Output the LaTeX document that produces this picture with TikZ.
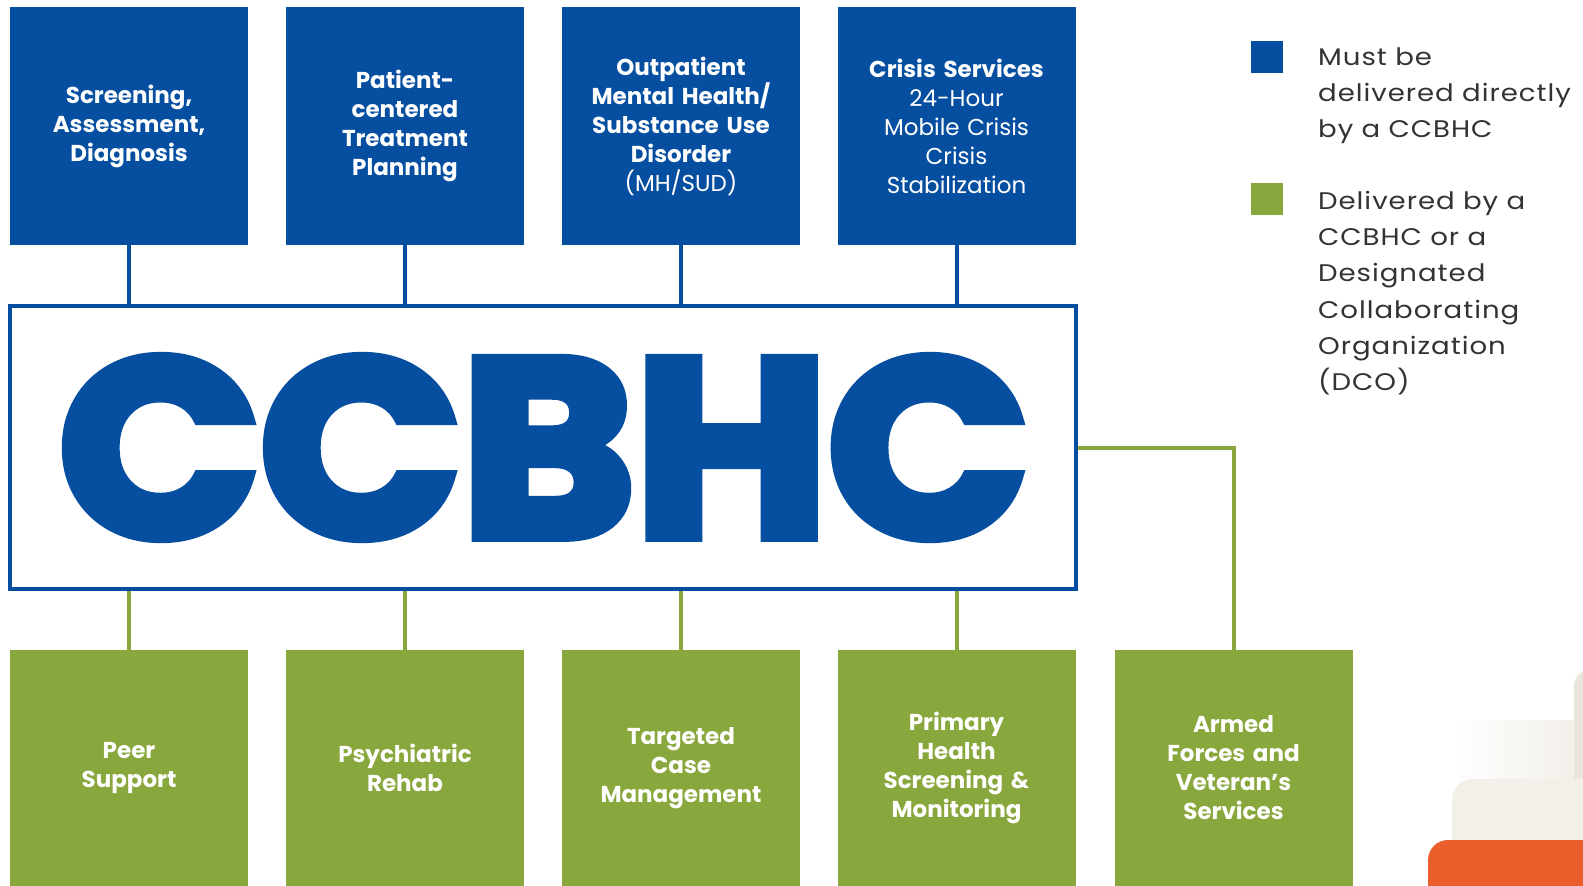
\documentclass[tikz,border=0pt]{standalone}
\usepackage{fontspec}
\usepackage{graphicx}
\setmainfont{Poppins}
\newfontfamily\bigfont{Poppins}[UprightFont=* Bold, FakeBold=4.5]
\newfontfamily\legfont{Poppins}[FakeStretch=1.15, LetterSpace=4]
\definecolor{ccblue}{HTML}{064FA0}
\definecolor{ccgreen}{HTML}{88A73C}
\definecolor{legtext}{HTML}{333333}
\definecolor{beige}{HTML}{F3F0EA}
\definecolor{beigedark}{HTML}{EAE5DC}
\definecolor{ccorange}{HTML}{E95E2B}
\begin{document}
\begin{tikzpicture}[x=1pt,y=-1pt,
  boxbase/.style={rectangle,inner sep=0pt,minimum width=238pt,text width=225pt,align=center,text=white,font=\fontsize{23}{29}\selectfont\bfseries},
  bluebox/.style={boxbase,fill=ccblue,minimum height=238pt},
  greenbox/.style={boxbase,fill=ccgreen,minimum height=236pt},
  blueline/.style={draw=ccblue,line width=4pt},
  greenline/.style={draw=ccgreen,line width=4pt},
  legsq/.style={rectangle,inner sep=0pt,minimum size=32pt},
  legtxt/.style={anchor=north west,inner sep=0pt,align=left,text=legtext,font=\legfont\fontsize{24}{36.2}\selectfont}]
\useasboundingbox (0,0) rectangle (1583,886);
% decoration bottom right
\fill[beigedark] (1574,886) -- (1574,686) arc[start angle=180,end angle=90,radius=16pt] -- (1583,670) -- (1583,886) -- cycle;
\shade[left color=white,right color=beige] (1450,720) rectangle (1574,779);
\fill[beige] (1452,886) -- (1452,799) arc[start angle=180,end angle=90,radius=20pt] -- (1583,779) -- (1583,886) -- cycle;
\fill[ccorange] (1428,886) -- (1428,860) arc[start angle=180,end angle=90,radius=20pt] -- (1583,840) -- (1583,886) -- cycle;
% main box
\node[draw=ccblue,line width=4pt,rectangle,inner sep=0pt,minimum width=1066pt,minimum height=283pt] (main) at (543,447.5) {};
\node[inner sep=0pt,text=ccblue] (logo) at (544,447.5) {\resizebox{969.6pt}{178.5pt}{\bigfont CCBHC}};
% top boxes
\node[bluebox] (t1) at (129,126) {Screening,\\Assessment,\\Diagnosis};
\node[bluebox] (t2) at (405,126) {Patient-\\centered\\Treatment\\Planning};
\node[bluebox] (t3) at (681,126) {Outpatient\\Mental Health/\\Substance Use\\Disorder\\\mdseries(MH/SUD)};
\node[bluebox] (t4) at (956.5,126) {Crisis Services\\\mdseries 24-Hour\\\mdseries Mobile Crisis\\\mdseries Crisis\\\mdseries Stabilization};
% bottom boxes
\node[greenbox] (b1) at (129,768) {Peer\\Support};
\node[greenbox] (b2) at (405,768) {Psychiatric\\Rehab};
\node[greenbox] (b3) at (681,768) {Targeted\\Case\\Management};
\node[greenbox] (b4) at (956.5,768) {Primary\\Health\\Screening \&\\Monitoring};
\node[greenbox] (b5) at (1233.5,768) {Armed\\Forces and\\Veteran’s\\Services};
% connectors
\foreach \n in {t1,t2,t3,t4}{\draw[blueline] (\n.south) -- (\n.south |- main.north);}
\foreach \n in {b1,b2,b3,b4}{\draw[greenline] (\n.north) -- (\n.north |- main.south);}
\draw[greenline] (main.east) -| (b5.north);
% legend
\node[legsq,fill=ccblue] (lq1) at (1267,57) {};
\node[legsq,fill=ccgreen] (lq2) at (1267,199) {};
\node[legtxt] (lt1) at (1318,47.5) {Must be\\delivered directly\\by a CCBHC};
\node[legtxt] (lt2) at (1318,191) {Delivered by a\\CCBHC or a\\Designated\\Collaborating\\Organization\\(DCO)};
\end{tikzpicture}
\end{document}
